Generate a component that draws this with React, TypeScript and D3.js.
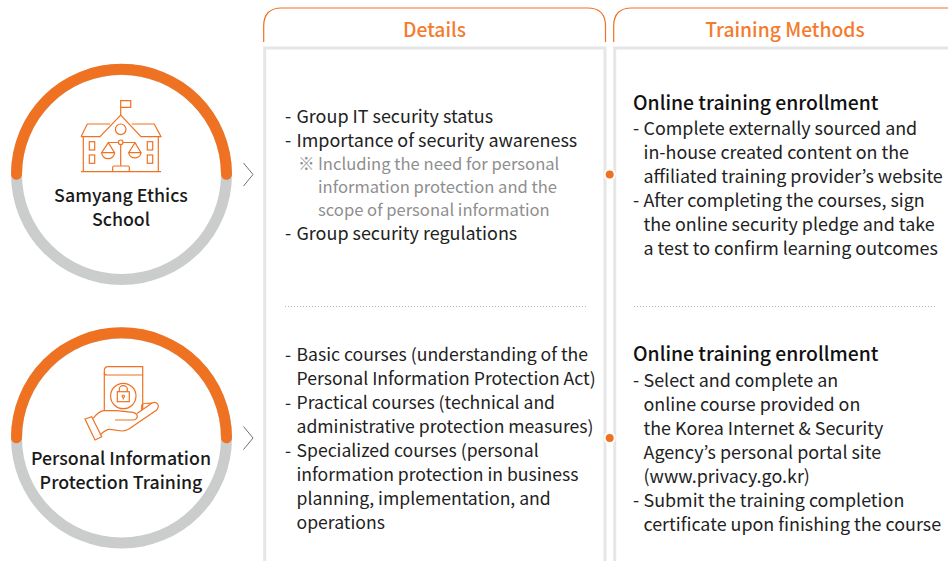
import * as d3 from "d3"

const ORANGE = "#ef7222"
const HEAD = "#f47b2e"
const GRAY = "#cbcdcc"
const BORDER = "#e6e6e6"
const FONT = "'Noto Sans CJK KR', 'Noto Sans', sans-serif"

const headers = ["Details", "Training Methods"]
const ringTitles = [
  ["Samyang Ethics", "School"],
  ["Personal Information", "Protection Training"],
]

type Line = { t: string; x: number; y: number; note?: boolean }

const detailsTop: Line[] = [
  { t: "-", x: 285, y: 123 },
  { t: "Group IT security status", x: 296.5, y: 123 },
  { t: "-", x: 285, y: 147 },
  { t: "Importance of security awareness", x: 296.5, y: 147 },
  { t: "※", x: 298, y: 170, note: true },
  { t: "Including the need for personal", x: 318, y: 170, note: true },
  { t: "information protection and the", x: 318, y: 193, note: true },
  { t: "scope of personal information", x: 318, y: 216, note: true },
  { t: "-", x: 285, y: 239.5 },
  { t: "Group security regulations", x: 296.5, y: 239.5 },
]

const detailsBottom = [
  "Basic courses (understanding of the",
  "Personal Information Protection Act)",
  "Practical courses (technical and",
  "administrative protection measures)",
  "Specialized courses (personal",
  "information protection in business",
  "planning, implementation, and",
  "operations",
]
const detailsBottomDash = [0, 2, 4]

const methodHeading = "Online training enrollment"
const methodsTop = [
  "Complete externally sourced and",
  "in-house created content on the",
  "affiliated training provider’s website",
  "After completing the courses, sign",
  "the online security pledge and take",
  "a test to confirm learning outcomes",
]
const methodsTopDash = [0, 3]
const methodsBottom = [
  "Select and complete an",
  "online course provided on",
  "the Korea Internet & Security",
  "Agency’s personal portal site",
  "(www.privacy.go.kr)",
  "Submit the training completion",
  "certificate upon finishing the course",
]
const methodsBottomDash = [0, 5]

const ringCenters = [174.5, 438]

const ringArc = d3.arc<{ startAngle: number; endAngle: number }>().innerRadius(99.5).outerRadius(110.5)
const ringTop = d3
  .arc<{ startAngle: number; endAngle: number }>()
  .innerRadius(99.5)
  .outerRadius(110.5)
  .cornerRadius(5.5)

function Ring({ cy, title, titleY }: { cy: number; title: string[]; titleY: number[] }) {
  return (
    <g transform={`translate(121.5, ${cy})`}>
      <path d={ringArc({ startAngle: 0, endAngle: Math.PI * 2 }) ?? ""} fill={GRAY} />
      <path
        d={ringTop({ startAngle: -Math.PI / 2 - 0.05, endAngle: Math.PI / 2 + 0.05 }) ?? ""}
        fill={ORANGE}
      />
      {title.map((t, i) => (
        <text key={t} x={-0.5} y={titleY[i]} textAnchor="middle" fontSize={17.8} fontWeight={500} fill="#1a1a1a">
          {t}
        </text>
      ))}
      <path d="M122 -11.5 L131.5 0 L122 11.5" fill="none" stroke="#6f6f6f" strokeWidth={1} />
    </g>
  )
}

function SchoolIcon() {
  return (
    <g fill="none" stroke={ORANGE} strokeWidth={1.2}>
      <path d="M120.7 115 V100.7 H130.7 V107.3 H120.7" />
      <path d="M81 136.7 L87.3 124 H110 M131.7 124 H154.3 L161 136.7 H141 L120.7 115 L100 136.7 H81" />
      <path d="M83.3 136.7 V171.7 M158.3 136.7 V171.7 M81 171.7 H161" />
      <circle cx={120.7} cy={129.3} r={5.3} />
      <circle cx={120.7} cy={142.3} r={2.3} />
      <path d="M108.3 142.5 H118.4 M123 142.5 H135 M120.7 144.6 V166" />
      <path d="M108.3 142.7 L101.7 152.7 H114.5 Z M101.7 152.7 A6.4 6 0 0 0 114.5 152.7" />
      <path d="M135 142.7 L128.7 152.7 H141 Z M128.7 152.7 A6.2 6 0 0 0 141 152.7" />
      <path d="M112.7 171.7 V167.5 Q112.7 166 114 166 H128 Q129.3 166 129.3 167.5 V171.7" />
      <rect x={89.3} y={141.7} width={5.4} height={8.3} />
      <rect x={89.3} y={155} width={5.4} height={8.3} />
      <rect x={147.3} y={141.7} width={5.4} height={8.3} />
      <rect x={147.3} y={155} width={5.4} height={8.3} />
    </g>
  )
}

function BookIcon() {
  return (
    <g fill="none" stroke={ORANGE} strokeWidth={1.2}>
      <path d="M104.3 410.5 V371 Q104.3 366.7 108 366.7 H142.7 V409" />
      <path d="M104.3 373 Q104.3 375 107 375 H142.7" />
      <circle cx={123.3} cy={396} r={12.7} />
      <rect x={117.3} y={391.7} width={12} height={10} />
      <path d="M119.3 391.7 V389 A4 3.4 0 0 1 127.3 389 V391.7" />
      <circle cx={123.3} cy={396.2} r={1.2} />
      <path d="M123.3 397.4 V399.4" />
      <path d="M85 419 L91.7 416.7 L101.7 436.7 L95 440 Z" />
      <path d="M93.3 418.3 Q99 411 104.3 410.7 H116.7 L133 412.3 Q137.5 413.5 137.3 416.7 Q136.5 420 133 420 H115" />
      <path d="M100 435 Q106 429 110 429.3 L122 431 Q127 431 133.3 426 L156.7 410 Q159.5 406 157.5 403.8 Q155.5 401.5 152 403 L137 413.5" />
      <path d="M141.7 410 V405 Q143 403 148 403.3 L152 403" />
    </g>
  )
}

function TextBlock({
  lines,
  dashes,
  top,
  step,
  dashX,
  x,
  size,
}: {
  lines: string[]
  dashes: number[]
  top: number
  step: number
  dashX: number
  x: number
  size: number
}) {
  const y = d3.scaleLinear([0, 1], [top, top + step])
  return (
    <g fontSize={size} fill="#222">
      {lines.map((l, i) => (
        <text key={l} x={x} y={y(i)}>
          {l}
        </text>
      ))}
      {dashes.map((i) => (
        <text key={i} x={dashX} y={y(i)}>
          -
        </text>
      ))}
    </g>
  )
}

export default function App() {
  return (
    <svg
      width={948}
      height={561}
      viewBox="0 0 948 561"
      style={{ position: "absolute", left: 0, top: 0, display: "block", fontFamily: FONT }}
    >
      <rect width={948} height={561} fill="#fff" />

      {[
        [263.7, 605.5],
        [613.7, 980],
      ].map(([x0, x1], i) => (
        <g key={headers[i]}>
          <path
            d={`M${x0} 42 V26 Q${x0} 8 ${x0 + 18} 8 H${x1 - 18} Q${x1} 8 ${x1} 26 V42`}
            fill="none"
            stroke={ORANGE}
            strokeWidth={1.2}
          />
          <text x={i === 0 ? 434.5 : 785} y={36.5} textAnchor="middle" fontSize={19.3} fontWeight={500} fill={HEAD}>
            {headers[i]}
          </text>
          <path d={`M${x0 + 1} 561 V48 H${x1 - 0.5} V561`} fill="none" stroke={BORDER} strokeWidth={3} />
        </g>
      ))}

      <line x1={285} x2={588} y1={306.5} y2={306.5} stroke="#b4b4b4" strokeDasharray="1 2" />
      <line x1={634} x2={937} y1={306.5} y2={306.5} stroke="#b4b4b4" strokeDasharray="1 2" />

      {ringCenters.map((cy) => (
        <g key={cy}>
          <circle cx={609.7} cy={cy} r={6} fill="#fff" />
          <circle cx={609.7} cy={cy} r={4} fill={ORANGE} />
        </g>
      ))}

      <Ring cy={ringCenters[0]} title={ringTitles[0]} titleY={[27, 51]} />
      <Ring cy={ringCenters[1]} title={ringTitles[1]} titleY={[27, 51]} />
      <SchoolIcon />
      <BookIcon />

      {detailsTop.map((l) => (
        <text
          key={l.t + l.y}
          x={l.x}
          y={l.y}
          fontSize={l.note ? 16.6 : 17.95}
          fill={l.note ? "#8f8f8f" : "#222"}
        >
          {l.t}
        </text>
      ))}

      <TextBlock lines={detailsBottom} dashes={detailsBottomDash} top={361} step={24} dashX={285} x={296.5} size={17.6} />

      <text x={633} y={110} fontSize={19.35} fontWeight={500} fill="#111">
        {methodHeading}
      </text>
      <TextBlock lines={methodsTop} dashes={methodsTopDash} top={135} step={24} dashX={633} x={643.5} size={17.9} />

      <text x={633} y={361} fontSize={19.35} fontWeight={500} fill="#111">
        {methodHeading}
      </text>
      <TextBlock lines={methodsBottom} dashes={methodsBottomDash} top={387} step={24} dashX={633} x={643.5} size={17.9} />
    </svg>
  )
}
